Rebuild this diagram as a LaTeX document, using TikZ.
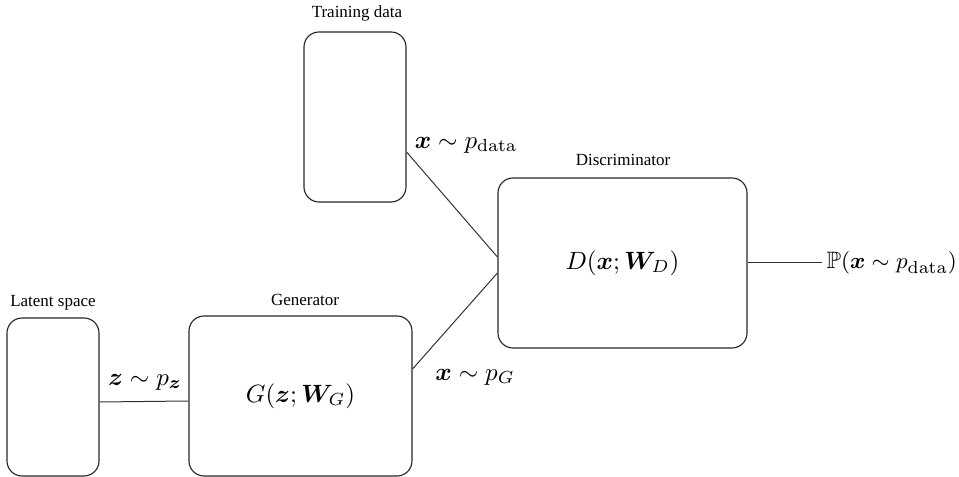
\documentclass[tikz,border=0pt]{standalone}
\usepackage{amsmath,amssymb,bm}
\usepackage[no-math]{fontspec}
\newfontfamily\lblfont{Liberation Serif}
\begin{document}
\begin{tikzpicture}[x=0.4pt,y=-0.4pt,
  box/.style={draw=black!85,line width=0.45pt,rounded corners=6pt,inner sep=0pt},
  lbl/.style={font=\lblfont\fontsize{6.8}{8}\selectfont,inner sep=0pt},
  mth/.style={font=\fontsize{9.7}{12}\selectfont,inner sep=0pt},
  conn/.style={draw=black!80,line width=0.4pt}]
\useasboundingbox (0,0) rectangle (959,477);
\node[box,minimum width=36.8pt,minimum height=63.2pt] (lat) at (53,397) {};
\node[box,minimum width=89.2pt,minimum height=64pt,mth] (gen) at (300.5,396) {$G(\bm{z};\bm{W}_G)$};
\node[box,minimum width=40.8pt,minimum height=68pt] (td) at (355,117) {};
\node[box,minimum width=99.6pt,minimum height=68pt,mth] (dis) at (622.5,263) {$D(\bm{x};\bm{W}_D)$};
\node[lbl] (tdl) at (357,13) {Training data};
\node[lbl] (latl) at (53,303) {Latent space};
\node[lbl] (genl) at (305,300) {Generator};
\node[lbl] (disl) at (623,160) {Discriminator};
\node[mth] (xd) at (466,145) {$\bm{x}\sim p_{\mathrm{data}}$};
\node[mth] (xg) at (475,377) {$\bm{x}\sim p_G$};
\node[mth] (zp) at (145,382) {$\bm{z}\sim p_{\bm{z}}$};
\node[mth,anchor=west,font=\fontsize{9.5}{12}\selectfont] (out) at (826,263) {$\mathbb{P}(\bm{x}\sim p_{\mathrm{data}})$};
\draw[conn] ([yshift=-2pt]lat.east) -- ([yshift=-2pt]gen.west);
\draw[conn] ([yshift=-14pt]td.east) -- ([yshift=2.4pt]dis.west);
\draw[conn] ([yshift=10.8pt]gen.east) -- ([yshift=-4pt]dis.west);
\draw[conn] (dis.east) -- ([xshift=-1.6pt]out.west);
\end{tikzpicture}
\end{document}
